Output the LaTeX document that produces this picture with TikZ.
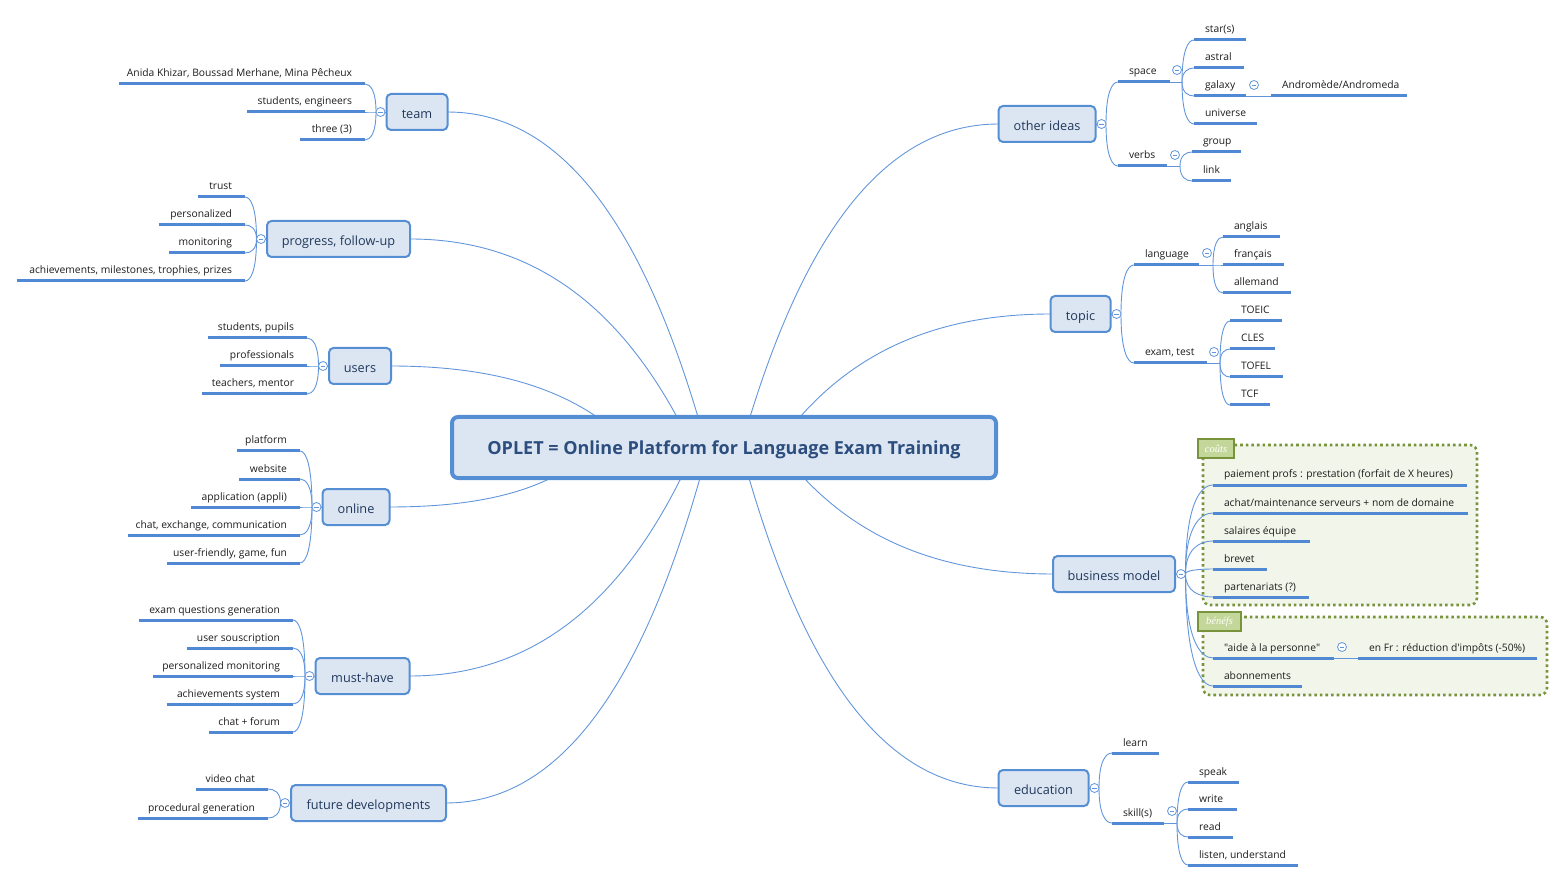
\documentclass[tikz,border=0pt]{standalone}
\usepackage{fontspec}
\setmainfont{Open Sans}[Ligatures=TeXOff]
\newfontfamily\lblfont{Liberation Serif}
\usetikzlibrary{calc}
\pgfdeclarelayer{bg}
\pgfsetlayers{bg,main}
\definecolor{boxborder}{RGB}{86,142,212}
\definecolor{boxfill}{RGB}{220,230,242}
\definecolor{lineblue}{RGB}{98,150,220}
\definecolor{ulblue}{RGB}{80,136,212}
\definecolor{branchtext}{RGB}{33,56,92}
\definecolor{maintext}{RGB}{44,78,126}
\definecolor{leaftext}{RGB}{28,28,28}
\definecolor{bdgreen}{RGB}{119,147,60}
\definecolor{bdfill}{RGB}{242,246,234}
\definecolor{lblfill}{RGB}{196,215,155}
\newcommand\mainlink[2]{\draw[mainline] (#1) let \p1=(#1), \p2=(#2) in .. controls ({\x1+0.2*(\x2-\x1)},{\y1+0.55*(\y2-\y1)}) and ({\x1+0.5*(\x2-\x1)},\y2) .. (\x2,\y2);}
\newcommand\leaflink[2]{\draw[thinline] (#1) let \p1=(#1), \p2=(#2) in .. controls (\x1,{\y1+0.75*(\y2-\y1)}) and ({\x2+0.5*(\x1-\x2)},\y2) .. (\x2,\y2);}
\begin{document}
\begin{tikzpicture}[x=1pt,y=-1pt,
 mainline/.style={draw=lineblue,line width=0.9pt},
 thinline/.style={draw=lineblue,line width=0.9pt},
 uline/.style={draw=ulblue,line width=3pt},
 branch/.style={draw=boxborder,line width=2pt,fill=boxfill,rounded corners=4.5pt,minimum height=36pt,minimum width=#1,inner sep=0pt,outer sep=0pt,text height=12.6pt,text depth=0pt,text=branchtext,font=\fontsize{12.7}{15}\selectfont},
 maintopic/.style={draw=boxborder,line width=4pt,fill=boxfill,rounded corners=6pt,minimum width=544pt,minimum height=61pt,inner sep=0pt,outer sep=0pt,text height=17pt,text depth=2pt,text=maintext,font=\fontsize{18}{21}\selectfont\bfseries},
 leafbase/.style={inner ysep=4pt,text height=8pt,text depth=3pt,outer sep=0pt,text=leaftext,font=\fontsize{10.3}{12}\selectfont},
 leafL/.style={leafbase,inner xsep=13pt,anchor=south east,append after command={(\tikzlastnode.south east) edge[uline] ($(\tikzlastnode.south east)+(-#1,0)$)}},
 leafR/.style={leafbase,inner xsep=11pt,anchor=south west,append after command={(\tikzlastnode.south west) edge[uline] ($(\tikzlastnode.south west)+(#1,0)$)}},
 marker/.style={circle,draw=lineblue,fill=white,line width=0.8pt,minimum size=9pt,inner sep=0pt,outer sep=0pt,path picture={\draw[lineblue,line width=0.7pt] ([xshift=-2.4pt]path picture bounding box.center) -- ([xshift=2.4pt]path picture bounding box.center);}},
 bound/.style={draw=bdgreen,fill=bdfill,line width=2.6pt,dash pattern=on 2.6pt off 3pt,rounded corners=7pt},
 blabel/.style={draw=bdgreen,fill=lblfill,line width=2.6pt,inner sep=0pt,outer sep=0pt,minimum height=19pt,text=white,font=\lblfont\itshape\fontsize{10.5}{12}\selectfont}
]
\useasboundingbox (0,0) rectangle (1564,882);
\begin{pgfonlayer}{bg}
\draw[bound] (1203,445) rectangle (1477,605);
\draw[bound] (1203,617) rectangle (1547,695);
\end{pgfonlayer}
\node[blabel,minimum width=36pt] (lb1) at (1216,448.5) {coûts};
\node[blabel,minimum width=43pt] (lb2) at (1219.5,621.5) {bénéfs};

% central topic
\node[maintopic] (c) at (724,447.5) {OPLET = Online Platform for Language Exam Training};

% branches
\node[branch=61pt] (team) at (417,112) {team};
\node[branch=143pt] (prog) at (338.5,239) {progress, follow-up};
\node[branch=62pt] (users) at (360,366) {users};
\node[branch=67pt] (online) at (356,507) {online};
\node[branch=94pt] (must) at (362.5,676) {must-have};
\node[branch=155pt] (future) at (368.5,803) {future developments};
\node[branch=97pt] (other) at (1047,124) {other ideas};
\node[branch=60pt] (topic) at (1080.5,314) {topic};
\node[branch=122pt] (biz) at (1114,574) {business model};
\node[branch=90pt] (edu) at (1043.5,788) {education};

% team
\node[leafL=246] (tA) at (365,84) {Anida Khizar, Boussad Merhane, Mina Pêcheux};
\node[leafL=118] (tB) at (365,112) {students, engineers};
\node[leafL=65] (tC) at (365,140) {three (3)};
% progress
\node[leafL=47] (pA) at (245,197) {trust};
\node[leafL=86] (pB) at (245,225) {personalized};
\node[leafL=76] (pC) at (245,253) {monitoring};
\node[leafL=228] (pD) at (245,281) {achievements, milestones, trophies, prizes};
% users
\node[leafL=99] (uA) at (307,338) {students, pupils};
\node[leafL=87] (uB) at (307,366) {professionals};
\node[leafL=105] (uC) at (307,394) {teachers, mentor};
% online
\node[leafL=63] (oA) at (300,451) {platform};
\node[leafL=61] (oB) at (300,479) {website};
\node[leafL=109] (oC) at (300,507) {application (appli)};
\node[leafL=172] (oD) at (300,535) {chat, exchange, communication};
\node[leafL=133] (oE) at (300,563) {user-friendly, game, fun};
% must-have
\node[leafL=154] (mA) at (293,620) {exam questions generation};
\node[leafL=106] (mB) at (293,648) {user souscription};
\node[leafL=140] (mC) at (293,676) {personalized monitoring};
\node[leafL=126] (mD) at (293,704) {achievements system};
\node[leafL=84] (mE) at (293,732) {chat + forum};
% future
\node[leafL=72] (fA) at (268,789) {video chat};
\node[leafL=130] (fB) at (268,818) {procedural generation};
% other ideas
\node[leafR=52] (space) at (1118,82) {space};
\node[leafR=49] (verbs) at (1118,166) {verbs};
\node[leafR=52] (s1) at (1194,40) {star(s)};
\node[leafR=50] (s2) at (1194,68) {astral};
\node[leafR=52] (s3) at (1194,96) {galaxy};
\node[leafR=63] (s4) at (1194,124) {universe};
\node[leafR=136] (andro) at (1271,96) {Andromède/Andromeda};
\node[leafR=49] (v1) at (1192,152) {group};
\node[leafR=39] (v2) at (1192,181) {link};
% topic
\node[leafR=65] (lang) at (1134,265) {language};
\node[leafR=73] (exam) at (1134,363) {exam, test};
\node[leafR=57] (l1) at (1223,237) {anglais};
\node[leafR=61] (l2) at (1223,265) {français};
\node[leafR=68] (l3) at (1223,293) {allemand};
\node[leafR=52] (e1) at (1230,321) {TOEIC};
\node[leafR=45] (e2) at (1230,349) {CLES};
\node[leafR=53] (e3) at (1230,377) {TOFEL};
\node[leafR=40] (e4) at (1230,405) {TCF};
% business model
\node[leafR=254] (b1) at (1213,485) {paiement profs : prestation (forfait de X heures)};
\node[leafR=255] (b2) at (1213,513) {achat/maintenance serveurs + nom de domaine};
\node[leafR=97] (b3) at (1213,541) {salaires équipe};
\node[leafR=54] (b4) at (1213,569) {brevet};
\node[leafR=96] (b5) at (1213,597) {partenariats (?)};
\node[leafR=121] (b6) at (1213,658) {"aide à la personne"};
\node[leafR=179] (b7) at (1358,658) {en Fr : réduction d'impôts (-50\%)};
\node[leafR=89] (b8) at (1213,686) {abonnements};
% education
\node[leafR=47] (learn) at (1112,753) {learn};
\node[leafR=52] (skill) at (1112,823) {skill(s)};
\node[leafR=51] (k1) at (1188,782) {speak};
\node[leafR=49] (k2) at (1188,809) {write};
\node[leafR=45] (k3) at (1188,837) {read};
\node[leafR=110] (k4) at (1188,865) {listen, understand};

% ends of underlines (connection points)
\coordinate (space-e) at ($(space.south west)+(52,0)$);
\coordinate (verbs-e) at ($(verbs.south west)+(49,0)$);
\coordinate (s3-e) at ($(s3.south west)+(52,0)$);
\coordinate (lang-e) at ($(lang.south west)+(65,0)$);
\coordinate (exam-e) at ($(exam.south west)+(73,0)$);
\coordinate (skill-e) at ($(skill.south west)+(52,0)$);
\coordinate (b6-e) at ($(b6.south west)+(121,0)$);
% fork points of sub-topics
\coordinate (fk-space) at ($(space-e)+(12,0)$);
\coordinate (fk-verbs) at ($(verbs-e)+(13,0)$);
\coordinate (fk-lang) at ($(lang-e)+(14,0)$);
\coordinate (fk-exam) at ($(exam-e)+(13,0)$);
\coordinate (fk-skill) at ($(skill-e)+(13,0)$);

% collapse markers
\node[marker] (team-m) at ($(team.west)+(-6,0)$) {};
\node[marker] (prog-m) at ($(prog.west)+(-6,0)$) {};
\node[marker] (users-m) at ($(users.west)+(-6,0)$) {};
\node[marker] (online-m) at ($(online.west)+(-6,0)$) {};
\node[marker] (must-m) at ($(must.west)+(-6,0)$) {};
\node[marker] (future-m) at ($(future.west)+(-6,0)$) {};
\node[marker] (other-m) at ($(other.east)+(6,0)$) {};
\node[marker] (topic-m) at ($(topic.east)+(6,0)$) {};
\node[marker] (biz-m) at ($(biz.east)+(6,0)$) {};
\node[marker] (edu-m) at ($(edu.east)+(6,0)$) {};
\node[marker] (space-m) at ($(fk-space)+(-5,-12)$) {};
\node[marker] (verbs-m) at ($(fk-verbs)+(-5,-11)$) {};
\node[marker] (galaxy-m) at ($(s3-e)+(8,-11)$) {};
\node[marker] (lang-m) at ($(fk-lang)+(-6,-12)$) {};
\node[marker] (exam-m) at ($(fk-exam)+(-6,-11)$) {};
\node[marker] (skill-m) at ($(fk-skill)+(-5,-12)$) {};
\node[marker] (aide-m) at ($(b6-e)+(8,-11)$) {};

\begin{pgfonlayer}{bg}
% main connectors
\mainlink{$(c.north west)+(246,0)$}{team.east}
\mainlink{$(c.north west)+(225,0)$}{prog.east}
\mainlink{$(c.north west)+(145,0)$}{users.east}
\mainlink{$(c.north west)+(298,0)$}{other.west}
\mainlink{$(c.north west)+(348,0)$}{topic.west}
\mainlink{$(c.south west)+(99,0)$}{online.east}
\mainlink{$(c.south west)+(229,0)$}{must.east}
\mainlink{$(c.south west)+(248,0)$}{future.east}
\mainlink{$(c.south west)+(297,0)$}{edu.west}
\mainlink{$(c.south west)+(352,0)$}{biz.west}
% branch to marker
\foreach \bb in {team,prog,users,online,must,future} {\draw[thinline] (\bb.west) -- (\bb-m.west);}
\foreach \bb in {other,topic,biz,edu} {\draw[thinline] (\bb.east) -- (\bb-m.east);}
% left leaves
\foreach \nd in {tA,tB,tC} {\leaflink{team-m.west}{\nd.south east}}
\foreach \nd in {pA,pB,pC,pD} {\leaflink{prog-m.west}{\nd.south east}}
\foreach \nd in {uA,uB,uC} {\leaflink{users-m.west}{\nd.south east}}
\foreach \nd in {oA,oB,oC,oD,oE} {\leaflink{online-m.west}{\nd.south east}}
\foreach \nd in {mA,mB,mC,mD,mE} {\leaflink{must-m.west}{\nd.south east}}
\foreach \nd in {fA,fB} {\leaflink{future-m.west}{\nd.south east}}
% right leaves
\foreach \nd in {space,verbs} {\leaflink{other-m.east}{\nd.south west}}
\draw[thinline] (space-e) -- (fk-space);
\foreach \nd in {s1,s2,s3,s4} {\leaflink{fk-space}{\nd.south west}}
\draw[thinline] (s3-e) -- (andro.south west);
\draw[thinline] (verbs-e) -- (fk-verbs);
\foreach \nd in {v1,v2} {\leaflink{fk-verbs}{\nd.south west}}
\foreach \nd in {lang,exam} {\leaflink{topic-m.east}{\nd.south west}}
\draw[thinline] (lang-e) -- (fk-lang);
\foreach \nd in {l1,l2,l3} {\leaflink{fk-lang}{\nd.south west}}
\draw[thinline] (exam-e) -- (fk-exam);
\foreach \nd in {e1,e2,e3,e4} {\leaflink{fk-exam}{\nd.south west}}
\foreach \nd in {b1,b2,b3,b4,b5,b6,b8} {\leaflink{biz-m.east}{\nd.south west}}
\draw[thinline] (b6-e) -- (b7.south west);
\foreach \nd in {learn,skill} {\leaflink{edu-m.east}{\nd.south west}}
\draw[thinline] (skill-e) -- (fk-skill);
\foreach \nd in {k1,k2,k3,k4} {\leaflink{fk-skill}{\nd.south west}}
\end{pgfonlayer}
\end{tikzpicture}
\end{document}
